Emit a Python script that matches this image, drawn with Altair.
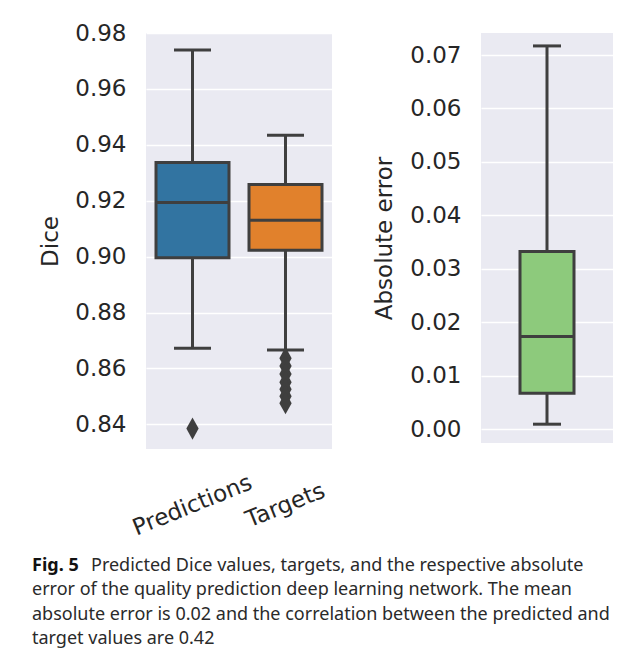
import altair as alt
import pandas as pd

# ---------------- data ----------------
categories = ["Predictions", "Targets"]
whisker_low = [0.8672, 0.8666]
q1 = [0.8996, 0.9023]
median = [0.9194, 0.9130]
q3 = [0.9337, 0.9258]
whisker_high = [0.9739, 0.9434]

outlier_category = ["Predictions", "Targets", "Targets", "Targets", "Targets",
                    "Targets", "Targets", "Targets"]
outlier_value = [0.8385, 0.8637, 0.8609, 0.8580, 0.8551, 0.8526, 0.8501, 0.8476]

err_category = ["Absolute error"]
err_low = [0.0009]
err_q1 = [0.0067]
err_median = [0.0173]
err_q3 = [0.0332]
err_high = [0.0717]

dice_ticks = [0.84, 0.86, 0.88, 0.90, 0.92, 0.94, 0.96, 0.98]
err_ticks = [0.00, 0.01, 0.02, 0.03, 0.04, 0.05, 0.06, 0.07]

caption_label = "Fig. 5"
caption_lines = [
    "Predicted Dice values, targets, and the respective absolute",
    "error of the quality prediction deep learning network. The mean",
    "absolute error is 0.02 and the correlation between the predicted and",
    "target values are 0.42",
]

# ---------------- style ----------------
box_colors = ["#3274A1", "#E1812C"]
err_color = "#8DCA7C"
EDGE = "#3F3F3F"
BG = "#EAEAF2"
TXT = "#262626"
FONT = "DejaVu Sans"
FS = 23
DIAMOND = "M0,-1L0.55,0L0,1L-0.55,0Z"

box_df = pd.DataFrame({"category": categories, "low": whisker_low, "q1": q1,
                       "median": median, "q3": q3, "high": whisker_high})
out_df = pd.DataFrame({"category": outlier_category, "value": outlier_value})
err_df = pd.DataFrame({"category": err_category, "low": err_low, "q1": err_q1,
                       "median": err_median, "q3": err_q3, "high": err_high})


def box_panel(df, outliers, cats, colors, yscale, yaxis, xaxis, box_w, cap_w,
              width, height):
    x = alt.X("category:N", sort=cats,
              scale=alt.Scale(paddingInner=0, paddingOuter=0), axis=xaxis)

    def y(field):
        return alt.Y(f"{field}:Q", scale=yscale, axis=yaxis)

    base = alt.Chart(df)
    whisk = base.mark_rule(color=EDGE, strokeWidth=3).encode(
        x=x, y=y("low"), y2="high:Q")
    box = base.mark_bar(size=box_w, stroke=EDGE, strokeWidth=3, opacity=1).encode(
        x=x, y=y("q1"), y2="q3:Q",
        color=alt.Color("category:N", scale=alt.Scale(domain=cats, range=colors),
                        legend=None))
    med = base.mark_tick(size=box_w, thickness=3, color=EDGE, opacity=1).encode(
        x=x, y=y("median"))
    cap_lo = base.mark_tick(size=cap_w, thickness=3, color=EDGE, opacity=1).encode(
        x=x, y=y("low"))
    cap_hi = base.mark_tick(size=cap_w, thickness=3, color=EDGE, opacity=1).encode(
        x=x, y=y("high"))
    layers = [whisk, box, med, cap_lo, cap_hi]
    if outliers is not None:
        pts = alt.Chart(outliers).mark_point(
            shape=DIAMOND, size=500, filled=True, color=EDGE, opacity=1,
            strokeWidth=0).encode(x=x, y=y("value"))
        layers.append(pts)
    return alt.layer(*layers).properties(
        width=width, height=height,
        view=alt.ViewBackground(fill=BG, stroke=None))


y_axis_common = dict(ticks=False, domain=False, grid=True, gridColor="white",
                     gridWidth=1.6, labelFont=FONT, labelFontSize=FS,
                     labelColor=TXT, labelPadding=20, labelFlush=False,
                     labelOverlap=False, titleFont=FONT, titleFontSize=FS,
                     titleFontWeight="normal", titleColor=TXT, format=".2f")

left = box_panel(
    box_df, out_df, categories, box_colors,
    alt.Scale(domain=[0.8312, 0.98], nice=False, zero=False),
    alt.Axis(title="Dice", values=dice_ticks, titlePadding=12, **y_axis_common),
    alt.Axis(title=None, labelAngle=338, labelAlign="center",
             labelBaseline="middle", labelPadding=56, ticks=False, domain=False,
             grid=False, labelFont=FONT, labelFontSize=FS, labelColor=TXT),
    73, 37, 186, 416)

right = box_panel(
    err_df, None, err_category, [err_color],
    alt.Scale(domain=[-0.00262, 0.07412], nice=False, zero=False),
    alt.Axis(title="Absolute error", values=err_ticks, titlePadding=13,
             **y_axis_common),
    None,
    54, 28, 132, 410)

# ---------------- caption ----------------
CAP_DX = -114
CAP_FS = 18
cap_first = pd.DataFrame({"line": [0], "text": [caption_lines[0]]})
cap_rest = pd.DataFrame({"line": list(range(1, len(caption_lines))),
                         "text": caption_lines[1:]})
cap_lab = pd.DataFrame({"line": [0], "text": [caption_label]})
ycap = alt.Y("line:O", axis=None, scale=alt.Scale(type="point", padding=0))

lab = alt.Chart(cap_lab).mark_text(
    align="left", baseline="alphabetic", font="Noto Sans", fontSize=CAP_FS,
    fontWeight="bold", color="#111111", dx=CAP_DX).encode(
    x=alt.value(0), y=ycap, text="text:N")
first = alt.Chart(cap_first).mark_text(
    align="left", baseline="alphabetic", font="Noto Sans", fontSize=CAP_FS,
    color="#2a2a2a", dx=CAP_DX + 59).encode(x=alt.value(0), y=ycap, text="text:N")
rest = alt.Chart(cap_rest).mark_text(
    align="left", baseline="alphabetic", font="Noto Sans", fontSize=CAP_FS,
    color="#2a2a2a", dx=CAP_DX).encode(x=alt.value(0), y=ycap, text="text:N")
caption = alt.layer(lab, first, rest).properties(width=400, height=73)

chart = alt.vconcat(
    alt.hconcat(left, right, spacing=41).resolve_scale(color="independent"),
    caption, spacing=17
).properties(
    padding={"left": 24, "top": 14, "right": 4, "bottom": 4},
    background="white"
).configure_view(stroke=None)

chart.save("out.html", embed_options={"renderer": "svg", "actions": False})
